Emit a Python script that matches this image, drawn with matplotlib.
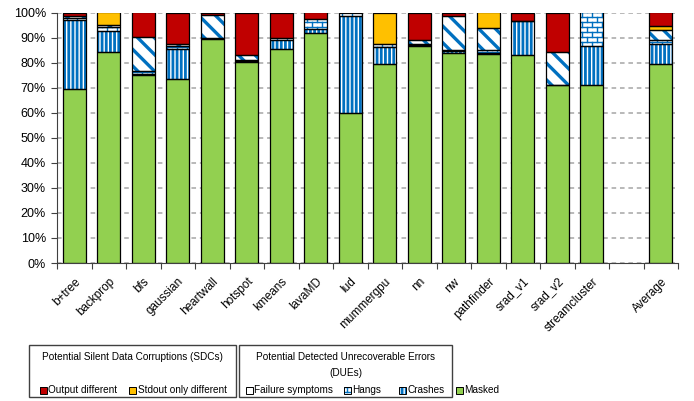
import warnings
import numpy as np
import matplotlib
matplotlib.use("Agg")
import matplotlib.pyplot as plt
import matplotlib.hatch as mhatch
from matplotlib.path import Path
from matplotlib.patches import Rectangle

warnings.filterwarnings("ignore", message=".*hatch must consist.*")


class BrickHatch(mhatch.HatchPatternBase):
    """Running-bond brick pattern, selected with the 'b' hatch character."""

    def __init__(self, hatch, density):
        count = hatch.count('b')
        self.rows = int(round(count * density * 10 / 3)) if count else 0
        self.cols = max(self.rows // 2, 1) if count else 0
        self.num_vertices = (2 * self.rows + 2 * self.cols * (self.rows + 1)) if count else 0

    def set_vertices_and_codes(self, vertices, codes):
        n, m = self.rows, self.cols
        k = 0
        for i in range(n):
            y = (i + 0.5) / n
            vertices[k] = (0.0, y)
            vertices[k + 1] = (1.0, y)
            k += 2
        for band in range(-1, n):
            y0 = (band + 0.5) / n
            y1 = y0 + 1.0 / n
            shift = 0.25 if band % 2 == 0 else 0.75
            for j in range(m):
                x = (j + shift) / m
                vertices[k] = (x, y0)
                vertices[k + 1] = (x, y1)
                k += 2
        codes[0::2] = Path.MOVETO
        codes[1::2] = Path.LINETO


mhatch._hatch_types.append(BrickHatch)

plt.rcParams['font.family'] = ['Liberation Sans', 'DejaVu Sans']
plt.rcParams['hatch.linewidth'] = 2.0

# ---- data (percent of injected faults) ----
benchmarks = ["b+tree", "backprop", "bfs", "gaussian", "heartwall", "hotspot",
              "kmeans", "lavaMD", "lud", "mummergpu", "nn", "nw", "pathfinder",
              "srad_v1", "srad_v2", "streamcluster", "", "Average"]
masked = [69.6, 84.2, 74.9, 73.3, 89.6, 80.2, 85.5, 91.9, 59.9, 79.6, 86.5, 83.9, 83.5, 82.9, 70.9, 71.2, 0, 79.3]
crashes = [27.6, 8.4, 0.5, 12.1, 0.0, 0.3, 3.7, 1.4, 38.9, 6.6, 0.6, 0.8, 0.4, 13.6, 0.3, 15.4, 0, 8.0]
hangs = [0.8, 1.6, 1.1, 1.3, 0.4, 0.6, 0.5, 4.2, 1.2, 1.3, 0.4, 0.4, 1.0, 0.3, 0.0, 13.4, 0, 1.9]
failure_symptoms = [0.5, 0.9, 13.7, 0.8, 9.2, 2.0, 0.0, 0.0, 0.0, 0.0, 1.6, 13.6, 9.0, 0.0, 13.0, 0.0, 0, 3.9]
stdout_only = [0.0, 4.9, 0.0, 0.0, 0.0, 0.0, 0.0, 0.0, 0.0, 12.5, 0.0, 0.0, 6.1, 0.0, 0.0, 0.0, 0, 1.4]
output_diff = [1.5, 0.0, 9.8, 12.5, 0.8, 16.9, 10.3, 2.5, 0.0, 0.0, 10.9, 1.3, 0.0, 3.2, 15.8, 0.0, 0, 5.5]

BLUE = "#0070c0"
# name, values, face colour, hatch colour, hatch, hatch line width
series = [
    ("Masked", masked, "#92d050", None, None, None),
    ("Crashes", crashes, "white", BLUE, "||||", 2.0),
    ("Hangs", hangs, "white", BLUE, "b", 1.0),
    ("Failure symptoms", failure_symptoms, "white", BLUE, "\\\\", 2.4),
    ("Stdout only different", stdout_only, "#ffc000", None, None, None),
    ("Output different", output_diff, "#c00000", None, None, None),
]


def set_hlw(patches, lw):
    for p in patches:
        if lw is not None and hasattr(p, "set_hatch_linewidth"):
            p.set_hatch_linewidth(lw)


W, H = 694, 401
fig = plt.figure(figsize=(W / 100, H / 100), dpi=100)
ax = fig.add_axes([57 / W, 1 - 263 / H, (678 - 57) / W, (263 - 12.5) / H])

x = np.arange(len(benchmarks))
bottom = np.zeros(len(benchmarks))
bw = 0.66
for name, vals, face, hcol, hatch, hlw in series:
    vals = np.asarray(vals, dtype=float)
    keep = vals > 0
    if hatch:
        bars = ax.bar(x[keep], vals[keep], bw, bottom=bottom[keep], color=face,
                      edgecolor=hcol, hatch=hatch, linewidth=0, zorder=2)
        set_hlw(bars, hlw)
    else:
        ax.bar(x[keep], vals[keep], bw, bottom=bottom[keep], color=face,
               linewidth=0, zorder=2)
    ax.bar(x[keep], vals[keep], bw, bottom=bottom[keep], fill=False,
           edgecolor="black", linewidth=0.9, zorder=3)
    bottom += vals

ax.set_xlim(-0.5, len(benchmarks) - 0.5)
ax.set_ylim(0, 100)
ax.set_yticks(np.arange(0, 101, 10))
ax.set_yticklabels([f"{v}%" for v in range(0, 101, 10)], fontsize=9)
ax.set_xticks(x)
ax.set_xticklabels(benchmarks, rotation=45, ha="right", rotation_mode="anchor",
                   fontsize=8.5)
ax.set_xticks(np.arange(-0.5, len(benchmarks), 1), minor=True)
ax.tick_params(axis="x", which="major", length=0, pad=9)
ax.tick_params(axis="x", which="minor", length=4, width=0.8, color="#404040")
ax.tick_params(axis="y", length=4, width=0.8, color="#404040", pad=4)

ax.yaxis.grid(True, color="#a6a6a6", linestyle=(0, (3, 2.5)), linewidth=1.1)
ax.set_axisbelow(True)
for s in ("top", "right"):
    ax.spines[s].set_visible(False)
for s in ("left", "bottom"):
    ax.spines[s].set_color("#404040")
    ax.spines[s].set_linewidth(0.8)


# ---- legend built in figure pixels ----
def fx(px):
    return px / W


def fy(py):
    return 1 - py / H


def box(x0, x1, y0, y1):
    fig.add_artist(Rectangle((fx(x0), fy(y1)), fx(x1) - fx(x0), fy(y0) - fy(y1),
                             transform=fig.transFigure, fill=False,
                             edgecolor="#404040", linewidth=1.0))


LFS = 7.2


def item(px, py, label, face, hcol=None, hatch=None, hlw=None):
    s = 7
    r = Rectangle((fx(px), fy(py + s / 2)), s / W, s / H,
                  transform=fig.transFigure, facecolor=face,
                  edgecolor=hcol if hcol else face, hatch=hatch, linewidth=0)
    set_hlw([r], hlw)
    fig.add_artist(r)
    fig.add_artist(Rectangle((fx(px), fy(py + s / 2)), s / W, s / H,
                             transform=fig.transFigure, fill=False,
                             edgecolor="black", linewidth=0.7))
    fig.text(fx(px + s + 1.5), fy(py), label, fontsize=LFS, va="center", ha="left")


box(29, 236, 345, 397)
box(239, 452, 345, 397)
fig.text(fx(132.5), fy(357), "Potential Silent Data Corruptions (SDCs)",
         fontsize=LFS, ha="center", va="center")
fig.text(fx(345.5), fy(357), "Potential Detected Unrecoverable Errors",
         fontsize=LFS, ha="center", va="center")
fig.text(fx(345.5), fy(373), "(DUEs)", fontsize=LFS, ha="center", va="center")

item(40, 390, "Output different", "#c00000")
item(129, 390, "Stdout only different", "#ffc000")
item(246, 390, "Failure symptoms", "white", BLUE, "\\\\", 2.0)
item(344, 390, "Hangs", "white", BLUE, "b", 1.0)
item(399, 390, "Crashes", "white", BLUE, "||||", 2.0)
item(456, 390, "Masked", "#92d050")

fig.savefig("out.png", dpi=100)
